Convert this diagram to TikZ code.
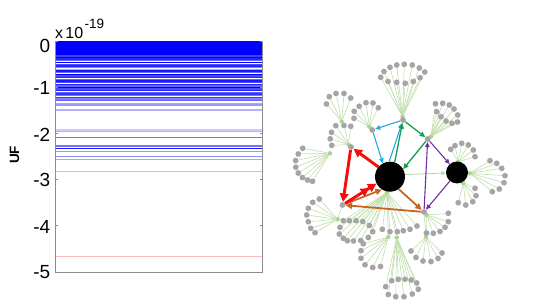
\documentclass[tikz,border=0pt]{standalone}
\usepackage{fontspec}
\setmainfont{Liberation Sans}
\usetikzlibrary{arrows.meta}
\pgfdeclarelayer{bg}
\pgfsetlayers{bg,main}
\definecolor{dotgray}{RGB}{166,164,164}
\definecolor{fang}{RGB}{192,222,172}
\definecolor{hubg}{RGB}{172,212,146}
\definecolor{arRed}{RGB}{250,10,10}
\definecolor{arOr}{RGB}{200,100,30}
\definecolor{arCy}{RGB}{30,170,230}
\definecolor{arGr}{RGB}{20,160,80}
\definecolor{arPu}{RGB}{112,48,160}
\definecolor{lgArrow}{RGB}{180,215,160}
\definecolor{axgray}{RGB}{140,140,140}
\definecolor{pinkl}{RGB}{255,185,185}
\newcommand\myfan[3]{%
  \foreach \p [count=\i] in {#3} {
    \node[dot] (#2-\i) at \p {};
    \begin{pgfonlayer}{bg}\draw[fanline] (#1) -- (#2-\i);\end{pgfonlayer}
  }}
\begin{document}
\begin{tikzpicture}[x=1pt,y=-1pt,
  dot/.style={circle,fill=dotgray,inner sep=0pt,minimum size=5.8pt},
  hubdot/.style={circle,fill=hubg,inner sep=0pt,minimum size=4.5pt},
  grayhub/.style={circle,fill=dotgray,inner sep=0pt,minimum size=5.8pt},
  fanline/.style={draw=fang,line width=0.6pt},
  bignode/.style={circle,fill=black,inner sep=0pt},
  ticklab/.style={anchor=east,inner sep=0pt,font=\fontsize{19}{19}\selectfont},
  redA/.style={draw=arRed,line width=2.9pt,-{Triangle[length=8.5pt,width=8.5pt]}},
  redAA/.style={draw=arRed,line width=2.9pt,-{Triangle[length=8.5pt,width=8.5pt]Triangle[length=8.5pt,width=8.5pt]}},
  orA/.style={draw=arOr,line width=1.8pt,-{Triangle[length=6.5pt,width=6pt]}},
  cyA/.style={draw=arCy,line width=1.1pt,-{Triangle[length=5pt,width=4.5pt]}},
  grA/.style={draw=arGr,line width=1.3pt,-{Triangle[length=5.5pt,width=5pt]}},
  puA/.style={draw=arPu,line width=1.1pt,-{Triangle[length=5pt,width=4.5pt]}},
  lgA/.style={draw=lgArrow,line width=0.8pt,-{Triangle[length=4.5pt,width=4pt]}},
  plotline/.style={line width=1.3pt}]
\useasboundingbox (0,0) rectangle (546,307);

% ---------------- left plot ----------------
\fill[blue] (55,41) rectangle (262,55.3);
\foreach \yy/\op in {56/0.75,57.5/1,59/0.85,60.7/0.6,62.3/1,64.2/0.7,66/0.85,67.7/0.5,69.3/0.35,71/0.9,72.6/0.6,74.3/1,76/0.7,77.7/0.85,79.3/0.6,81/0.9,82.7/0.7,84.3/0.85,86/0.6,87.4/1,89/0.7,90.7/0.85,92.3/0.6,94/0.8,95.7/0.55,97.5/0.75,99/0.5,100.5/0.6,103.3/0.35,105/0.4,110/0.3,130/0.2,131.7/0.3,137.3/0.55,146/0.55,148.3/0.9,151.7/0.4,156.7/0.45,159.7/0.35,171.7/0.25}
  \draw[blue,opacity=\op,plotline] (55,\yy) -- (262,\yy);
\draw[pinkl,line width=0.7pt] (55,256.7) -- (262,256.7);
\draw[axgray,line width=0.8pt] (55,41) -- (55,272) -- (262,272) -- (262,41);
\foreach \v in {0,...,5} {
  \draw[axgray,line width=0.6pt] (55,41+46.2*\v) -- ++(2.5,0);
  \draw[axgray,line width=0.6pt] (262,41+46.2*\v) -- ++(-2.5,0);
}
\node[ticklab] (t0) at (50.5,46.3) {0};
\node[ticklab] (t1) at (50.5,88.3) {-1};
\node[ticklab] (t2) at (50.5,135) {-2};
\node[ticklab] (t3) at (50.5,180.3) {-3};
\node[ticklab] (t4) at (50.5,226.7) {-4};
\node[ticklab] (t5) at (50.5,272.5) {-5};
\node[anchor=base west,inner sep=0pt] (scale) at (55,38.3)
  {\fontsize{16}{16}\selectfont x\hspace{2.2pt}10\hspace{1.5pt}\raisebox{10pt}{\fontsize{13.5}{13.5}\selectfont -19}};
\node[rotate=90,inner sep=0pt,font=\bfseries\fontsize{13.5}{13.5}\selectfont] (uf) at (14.5,155) {UF};

% ---------------- right graph ----------------
% hubs (green)
\node[hubdot] (hA) at (402.5,116.5) {};
\node[hubdot] (hB) at (431,136.5) {};
\node[hubdot] (hC) at (369.3,126.7) {};
\node[hubdot] (hTL) at (341.7,121.5) {};
\node[hubdot] (hD) at (348.5,144.5) {};
\node[hubdot] (hL) at (330,153.3) {};
\node[hubdot] (hEL) at (337.7,219.3) {};
\node[hubdot] (hBN) at (387,192.5) {};
\node[hubdot] (hH1) at (388.3,237) {};
\node[hubdot] (hH2) at (396.7,237.5) {};
\node[hubdot] (hFR) at (426.7,215) {};
\node[hubdot] (hFL) at (426,237) {};
\node[hubdot] (hS1) at (458.3,161.7) {};
\node[hubdot] (hS2) at (470,173.3) {};
\node[hubdot] (hS3) at (463.3,183.3) {};

% fans
\myfan{hA}{fa}{(380.7,77.3),(384,71.5),(390,67.3),(396.7,65),(404.3,64.3),(412.3,65),(419.3,68),(424.8,72),(388,81.5),(396.7,82.3),(405.2,83.3),(413.3,81.5),(420,77.8)}
\myfan{hB}{fb}{(435.5,103.8),(442.7,103.3),(449.3,105),(454,109),(457.7,115),(457.5,122),(452,123.3),(446,121),(441,116.7),(436.7,111.7)}
\myfan{hC}{fc}{(359.2,106.3),(366,102.7),(373,103),(378.3,107.8),(354.2,111.3),(354,118.3)}
\myfan{hTL}{ftl}{(326.5,104),(329.3,96.7),(336,93.5),(344,93.5),(350.7,98)}
\myfan{hD}{fd}{(335.8,125.7),(344,125.5),(350.7,126.3),(331.5,132.3),(330.2,138.8),(331.8,145.4)}
\myfan{hL}{fl}{(302.7,148.3),(298.3,154),(295.6,160.6),(295.8,167.2),(298.3,173),(302.5,177.5),(307.5,180),(312.5,181.3)}
\myfan{hEL}{fel}{(319.3,199),(312.7,202.3),(308.3,208.3),(306.7,215),(308.3,221.7),(310.7,228.3),(315,232.7)}
\myfan{hBN}{fbn}{(343.3,220.7),(349.3,220.7),(356,220.7),(362.7,221.5),(369.3,225.5),(340,227.3),(339.3,234),(343.3,238.3),(347.3,240.7),(353.5,241),(360.7,240.5),(368.3,237.5),(372.7,231.7),(382.3,229.3),(390,231.7),(397.3,231.7),(403.3,230.7),(410,229.3),(417,226)}
\myfan{hH1}{fh1}{(363.3,243.8),(361,250.7),(361,258.3),(365,264.8),(372.7,267.5),(380.5,266.5)}
\myfan{hH2}{fh2}{(385.7,286.7),(388.3,294.5),(395.7,296.7),(404,296.7),(412.3,294),(418.3,289.3),(416.7,283),(411.3,280),(405,279.3),(398.3,279.3),(391.7,280.7)}
\myfan{hFR}{ffr}{(448.3,213.3),(448.3,221.7),(445,227.3),(440,231.5),(433.3,233.3),(426.5,233)}
\myfan{hFL}{ffl}{(411,251),(416,257.5),(423,261),(431,261.5),(438,258.5),(442,253)}
\myfan{hS1}{fs1}{(450.7,149.3),(455,145.7),(461.7,143.3),(468.3,145),(473.3,150),(475,156.7)}
\myfan{hS2}{fs2}{(490,160.7),(496.7,163.3),(501.7,168.3),(505,175.7),(504,182.7),(499.3,189),(492.3,191.7)}
\myfan{hS3}{fs3}{(475,188.3),(476,195.7),(472.7,201.7),(465.7,205),(458.3,202.7)}

% main nodes
\node[grayhub] (A) at (403,120) {};
\node[grayhub] (B) at (427.7,139) {};
\node[grayhub] (C) at (372.3,130) {};
\node[grayhub] (D) at (351,147) {};
\node[grayhub] (E) at (342.5,205) {};
\node[grayhub] (F) at (424,212) {};
\begin{pgfonlayer}{bg}
\draw[fanline] (hBN) -- (hH1);
\draw[fanline] (hBN) -- (hH2);
\draw[fanline] (F) -- (hFL);
\draw[fanline] (E) -- (hEL);
\end{pgfonlayer}
\node[bignode,minimum size=30pt] (BN) at (390,176.7) {};
\node[bignode,minimum size=22pt] (SN) at (457,172.5) {};

% arrows
\draw[lgA] (BN.8) -- (SN);
\draw[cyA] (A) -- (C);
\draw[cyA] (C) -- (BN.118);
\draw[cyA] (BN.93) -- (A);
\draw[grA] (BN.72) -- (A);
\draw[grA] (A) -- (B);
\draw[grA] (B) -- (BN.30);
\draw[puA] (B) -- (SN);
\draw[puA] (SN) -- (F);
\draw[puA] (F) -- (B);
\draw[orA] (BN.305) -- (F);
\draw[orA] (F) -- (E);
\draw[orA] (E) -- (BN.238);
\draw[redA] (BN.140) -- (D);
\draw[redA] (D) -- (E);
\draw[redAA] (E) -- (BN.207);
\end{tikzpicture}
\end{document}
